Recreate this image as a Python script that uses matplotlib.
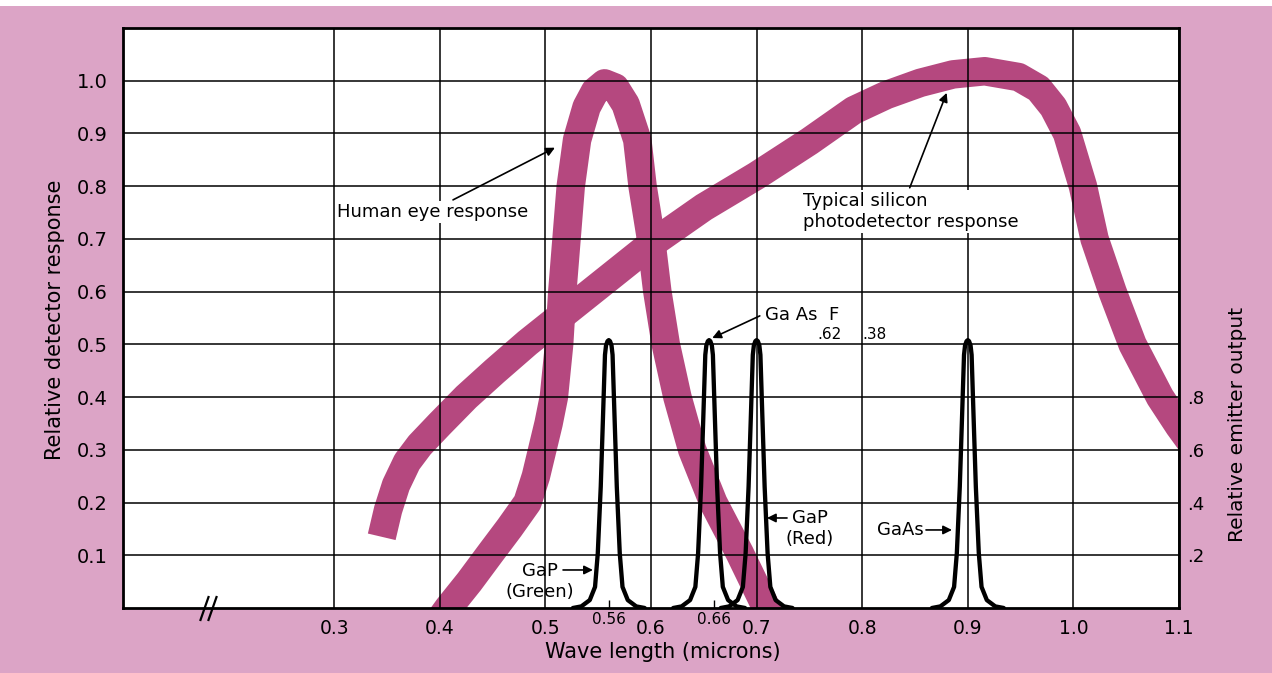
import numpy as np
import matplotlib.pyplot as plt
from matplotlib.patches import Rectangle

# centre line of the human eye response band
eye_x = [0.39, 0.408, 0.428, 0.448, 0.466, 0.483, 0.491, 0.497, 0.503, 0.508, 0.513, 0.516,
         0.520, 0.524, 0.530, 0.539, 0.547, 0.556, 0.566, 0.576, 0.587, 0.592, 0.600,
         0.606, 0.614, 0.625, 0.639, 0.659, 0.684, 0.708, 0.722]
eye_y = [-0.05, 0.0, 0.05, 0.104, 0.152, 0.20, 0.25, 0.30, 0.35, 0.40, 0.50, 0.60,
         0.70, 0.80, 0.888, 0.95, 0.980, 0.995, 0.987, 0.955, 0.888, 0.80, 0.70,
         0.60, 0.50, 0.40, 0.30, 0.20, 0.104, 0.005, -0.05]

# centre line of the silicon photodetector band
si_x = [0.345, 0.351, 0.3585, 0.369, 0.381, 0.400, 0.425, 0.452, 0.483, 0.55, 0.60, 0.65,
        0.70, 0.75, 0.792, 0.823, 0.855, 0.886, 0.916, 0.948, 0.967, 0.981, 0.994,
        1.009, 1.020, 1.037, 1.056, 1.082, 1.10, 1.12]
si_y = [0.135, 0.186, 0.233, 0.277, 0.309, 0.349, 0.400, 0.449, 0.503, 0.61, 0.69, 0.76,
        0.82, 0.885, 0.944, 0.973, 0.996, 1.012, 1.018, 1.007, 0.985, 0.95, 0.90,
        0.80, 0.70, 0.60, 0.50, 0.40, 0.345, 0.29]

# LED emission peaks (same profile, different centres)
led_centres = [0.56, 0.655, 0.70, 0.90]
peak_dx = [-0.034, -0.026, -0.018, -0.013, -0.0104, -0.0076, -0.0055, -0.0036, -0.0026, -0.0012, 0,
           0.0012, 0.0026, 0.0036, 0.0055, 0.0076, 0.0104, 0.013, 0.018, 0.026, 0.034]
peak_y = [0, 0.003, 0.015, 0.04, 0.104, 0.23, 0.36, 0.48, 0.498, 0.506, 0.508,
          0.506, 0.498, 0.48, 0.36, 0.23, 0.104, 0.04, 0.015, 0.003, 0]

x_ticks = [0.3, 0.4, 0.5, 0.6, 0.7, 0.8, 0.9, 1.0, 1.1]
x_labels = ['0.3', '0.4', '0.5', '0.6', '0.7', '0.8', '0.9', '1.0', '1.1']
extra_ticks = [0.56, 0.66]
extra_labels = ['0.56', '0.66']
y_ticks = [0.1, 0.2, 0.3, 0.4, 0.5, 0.6, 0.7, 0.8, 0.9, 1.0]
y_labels = ['0.1', '0.2', '0.3', '0.4', '0.5', '0.6', '0.7', '0.8', '0.9', '1.0']
right_ticks = [0.2, 0.4, 0.6, 0.8]
right_labels = ['.2', '.4', '.6', '.8']

pink_bg = '#dca4c6'
band = '#b5487f'

fig = plt.figure(figsize=(12.72, 6.73), dpi=100, facecolor=pink_bg)
fig.add_artist(Rectangle((0, 1 - 6/673), 1, 6/673, transform=fig.transFigure,
                         fc='white', ec='none'))
ax = fig.add_axes([0.0967, 0.0966, 0.8302, 0.8618])
ax.set_xlim(0.1, 1.1)
ax.set_ylim(0, 1.1)
ax.set_facecolor('white')
ax.set_axisbelow(False)

ax.plot(si_x, si_y, color=band, lw=20.5, solid_capstyle='butt', solid_joinstyle='round', zorder=1)
ax.plot(eye_x, eye_y, color=band, lw=20.5, solid_capstyle='butt', solid_joinstyle='round', zorder=1)

for c in led_centres:
    ax.plot(np.array(peak_dx) + c, peak_y, color='k', lw=3.1, solid_joinstyle='round',
            solid_capstyle='round', zorder=3)

# ticks + grid
ax.set_xticks(x_ticks, x_labels)
ax.set_xticks(extra_ticks, extra_labels, minor=True)
ax.set_yticks(y_ticks, y_labels)
ax.tick_params(axis='x', which='major', length=0, pad=8, labelsize=13.5)
ax.tick_params(axis='x', which='minor', direction='in', length=6, width=1, pad=3, labelsize=11)
ax.tick_params(axis='y', length=0, pad=11, labelsize=14)
ax.grid(True, which='major', color='k', lw=1.1)
for sp in ax.spines.values():
    sp.set_linewidth(2.0)

ax2 = ax.twinx()
ax2.set_ylim(0, 2.2)
ax2.set_yticks(right_ticks, right_labels)
ax2.tick_params(length=0, pad=6, labelsize=13)
for sp in ax2.spines.values():
    sp.set_visible(False)

# axis break on the x axis
ax.plot([0.177, 0.184], [0, 0], transform=ax.get_xaxis_transform(), ls='none',
        marker=[(-0.35, -1), (0.35, 1)], ms=18, mec='k', mew=1.6, clip_on=False, zorder=5)

ax.set_xlabel('Wave length (microns)', fontsize=15)
ax.xaxis.set_label_coords(0.511, -0.058)
ax.text(-0.064, 0.497, 'Relative detector response', transform=ax.transAxes,
        rotation=90, ha='center', va='center', fontsize=15)
ax.text(1.055, 0.317, 'Relative emitter output', transform=ax.transAxes,
        rotation=90, ha='center', va='center', fontsize=14.5)

arr = dict(arrowstyle='-|>', color='k', lw=1.2, mutation_scale=13, shrinkA=0, shrinkB=0)
box = dict(fc='white', ec='none', pad=1.5)

ax.text(0.3026, 0.751, 'Human eye response', fontsize=13, ha='left', va='center', bbox=box, zorder=4)
ax.annotate('', xy=(0.509, 0.873), xytext=(0.4125, 0.774), arrowprops=arr, zorder=4)

ax.text(0.744, 0.752, 'Typical silicon\nphotodetector response', fontsize=13, ha='left',
        va='center', linespacing=1.25, bbox=box, zorder=4)
ax.annotate('', xy=(0.880, 0.977), xytext=(0.845, 0.797), arrowprops=arr, zorder=4)

ax.text(0.708, 0.556, 'Ga As  F', fontsize=13, ha='left', va='center', zorder=4)
ax.text(0.7686, 0.518, '.62', fontsize=11, ha='center', va='center', zorder=4)
ax.text(0.812, 0.518, '.38', fontsize=11, ha='center', va='center', zorder=4)
ax.annotate('', xy=(0.658, 0.512), xytext=(0.703, 0.554), arrowprops=arr, zorder=4)

ax.text(0.7506, 0.15, 'GaP\n(Red)', fontsize=13, ha='center', va='center', zorder=4)
ax.annotate('', xy=(0.7098, 0.1707), xytext=(0.7288, 0.1707), arrowprops=arr, zorder=4)

ax.text(0.4949, 0.0503, 'GaP\n(Green)', fontsize=13, ha='center', va='center', zorder=4)
ax.annotate('', xy=(0.545, 0.0721), xytext=(0.5167, 0.0721), arrowprops=arr, zorder=4)

ax.text(0.8358, 0.148, 'GaAs', fontsize=13, ha='center', va='center', zorder=4)
ax.annotate('', xy=(0.885, 0.148), xytext=(0.8604, 0.148), arrowprops=arr, zorder=4)

fig.savefig('out.png', dpi=100, facecolor=pink_bg)
